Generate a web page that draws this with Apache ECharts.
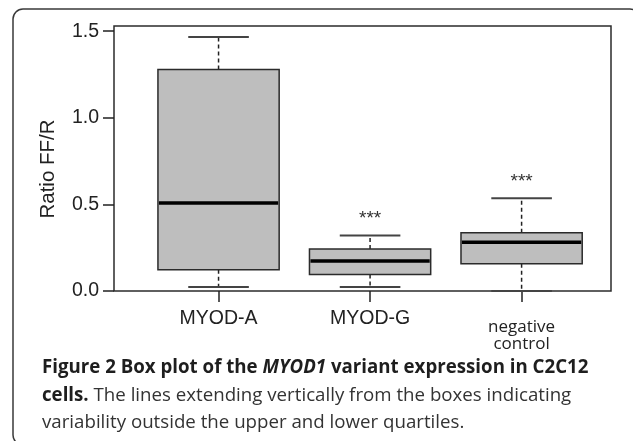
<!DOCTYPE html>
<html>
<head>
<meta charset="utf-8">
<script src="https://cdn.jsdelivr.net/npm/echarts@6/dist/echarts.min.js"></script>
<style>
  html, body { margin: 0; padding: 0; background: #fff; }
  #main { width: 633px; height: 441px; }
</style>
</head>
<body>
<div id="main"></div>
<script>
// box plot values (Ratio FF/R)
let categories = ['MYOD-A', 'MYOD-G', 'negative control'];
let lowWhisker = [0.023, 0.023, 0.0];
let lowerQuartile = [0.123, 0.095, 0.158];
let medians = [0.508, 0.173, 0.281];
let upperQuartile = [1.279, 0.242, 0.337];
let highWhisker = [1.466, 0.321, 0.535];
let signif = ['', '***', '***'];
let yTicks = [0, 0.5, 1.0, 1.5];

let boxData = [];
for (let i = 0; i < categories.length; i++) {
    boxData.push([i + 1, lowWhisker[i], lowerQuartile[i], medians[i], upperQuartile[i], highWhisker[i]]);
}

//draws one box with whiskers, caps, median and the star label
function renderBox(params, api) {
    let x = api.value(0);
    let pLow = api.coord([x, api.value(1)]);
    let pQ1 = api.coord([x, api.value(2)]);
    let pMed = api.coord([x, api.value(3)]);
    let pQ3 = api.coord([x, api.value(4)]);
    let pHigh = api.coord([x, api.value(5)]);
    let boxW = api.size([0.8, 0])[0];
    let capW = api.size([0.4, 0])[0];
    let cx = pMed[0];
    let dash = {stroke: '#222', lineWidth: 1.5, lineDash: [4, 3]};
    let cap = {stroke: '#444', lineWidth: 2};
    let children = [
        {type: 'line', shape: {x1: cx, y1: pQ3[1], x2: cx, y2: pHigh[1]}, style: dash},
        {type: 'line', shape: {x1: cx, y1: pQ1[1], x2: cx, y2: pLow[1]}, style: dash},
        {type: 'line', shape: {x1: cx - capW / 2, y1: pHigh[1], x2: cx + capW / 2, y2: pHigh[1]}, style: cap},
        {type: 'line', shape: {x1: cx - capW / 2, y1: pLow[1], x2: cx + capW / 2, y2: pLow[1]}, style: cap},
        {type: 'rect', shape: {x: cx - boxW / 2, y: pQ3[1], width: boxW, height: pQ1[1] - pQ3[1]},
            style: {fill: '#bebebe', stroke: '#2b2b2b', lineWidth: 1.5}},
        {type: 'line', shape: {x1: cx - boxW / 2 + 1, y1: pMed[1], x2: cx + boxW / 2 - 1, y2: pMed[1]},
            style: {stroke: '#000', lineWidth: 3.5}}
    ];
    let s = signif[params.dataIndex];
    if (s) {
        children.push({type: 'text', x: cx, y: pHigh[1] - 17,
            style: {text: s, fill: '#333', font: '19px "Liberation Sans"', align: 'center', verticalAlign: 'middle'}});
    }
    return {type: 'group', children: children};
}

let chart = echarts.init(document.getElementById('main'));

let option = {
    animation: false,
    grid: {left: 114, top: 26, right: 22, bottom: 150, show: true, borderColor: '#2b2b2b', borderWidth: 1.5},
    xAxis: {
        type: 'value',
        min: 0.31,
        max: 3.59,
        splitLine: {show: false},
        axisLine: {show: false},
        axisTick: {show: true, customValues: [1, 2, 3], length: 11, lineStyle: {color: '#222', width: 1.5}},
        axisLabel: {
            customValues: [1, 2, 3],
            margin: 18,
            verticalAlign: 'top',
            formatter: function (v) {
                let name = categories[Math.round(v) - 1];
                if (name === 'negative control') {
                    return '{n1|negative}\n{n|control}';
                }
                return '{m|' + name + '}';
            },
            rich: {
                m: {fontFamily: 'Liberation Sans', fontSize: 19.5, lineHeight: 20, color: '#222'},
                n1: {fontFamily: 'Open Sans', fontSize: 17, lineHeight: 27, verticalAlign: 'bottom', color: '#222'},
                n: {fontFamily: 'Open Sans', fontSize: 17, lineHeight: 16, color: '#222'}
            }
        }
    },
    yAxis: {
        type: 'value',
        min: 0,
        max: 1.53,
        splitLine: {show: false},
        axisLine: {show: false},
        axisTick: {show: true, customValues: yTicks, length: 11, lineStyle: {color: '#222', width: 1.5}},
        axisLabel: {
            customValues: yTicks,
            margin: 15,
            fontFamily: 'Liberation Sans',
            fontSize: 19.5,
            color: '#222',
            formatter: function (v) { return v.toFixed(1); }
        }
    },
    series: [{
        type: 'custom',
        renderItem: renderBox,
        encode: {x: 0, y: [1, 2, 3, 4, 5]},
        data: boxData,
        clip: false
    }],
    graphic: [
        {type: 'rect', shape: {x: 13, y: 9, width: 627, height: 436, r: 10},
            style: {fill: null, stroke: '#3a3a3a', lineWidth: 1.5}, silent: true},
        {type: 'text', x: 48, y: 169, rotation: Math.PI / 2,
            style: {text: 'Ratio FF/R', font: '20.5px "Liberation Sans"', fill: '#222', align: 'center', verticalAlign: 'middle'}},
        {type: 'text', x: 42, y: 354,
            style: {
                text: '{b|Figure 2 Box plot of the }{bi|MYOD1}{b| variant expression in C2C12}\n' +
                    '{b|cells.}{r| The lines extending vertically from the boxes indicating}\n' +
                    '{r|variability outside the upper and lower quartiles.}',
                rich: {
                    b: {fontFamily: 'Open Sans', fontWeight: 'bold', fontSize: 18.7, lineHeight: 27.5, fill: '#1e1e1e'},
                    bi: {fontFamily: 'Open Sans', fontWeight: 'bold', fontStyle: 'italic', fontSize: 18.7, lineHeight: 27.5, fill: '#1e1e1e'},
                    r: {fontFamily: 'Open Sans', fontSize: 18.7, lineHeight: 27.5, fill: '#333'}
                }
            }}
    ]
};

chart.setOption(option);
</script>
</body>
</html>
